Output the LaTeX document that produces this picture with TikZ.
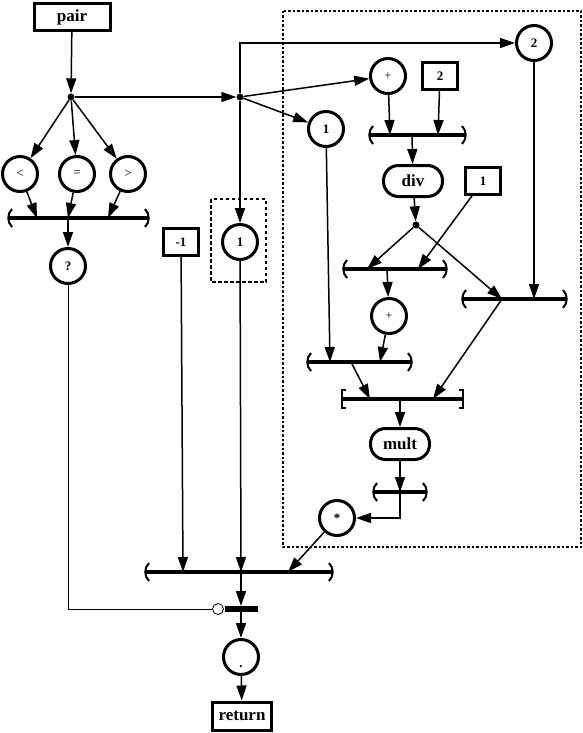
\documentclass[tikz,border=0pt]{standalone}
\usepackage{fontspec}
\setmainfont{Liberation Serif}
\usetikzlibrary{arrows.meta}

\newcommand{\grossfont}{\bfseries\fontsize{17}{18}\selectfont}
\newcommand{\kleinfont}{\bfseries\fontsize{13}{14}\selectfont}

% Balken mit runden bzw. eckigen Klammern: Name, x links, x rechts, y
\newcommand{\rundbalken}[4]{%
    \draw[balken] (#2,#4) -- (#3,#4);
    \draw[klammer] (#2+4,#4-9) .. controls (#2-1,#4-4) and (#2-1,#4+4) .. (#2+4,#4+9);
    \draw[klammer] (#3-4,#4-9) .. controls (#3+1,#4-4) and (#3+1,#4+4) .. (#3-4,#4+9);
    \coordinate (#1) at ({(#2+#3)/2},#4);
}
\newcommand{\eckbalken}[4]{%
    \draw[balken] (#2,#4) -- (#3,#4);
    \draw[klammer] (#2+4,#4-9) -- (#2,#4-9) -- (#2,#4+9) -- (#2+4,#4+9);
    \draw[klammer] (#3-4,#4-9) -- (#3,#4-9) -- (#3,#4+9) -- (#3-4,#4+9);
    \coordinate (#1) at ({(#2+#3)/2},#4);
}

\tikzset{
    knoten/.style={draw, line width=3pt, inner sep=0pt, font=\kleinfont},
    kreis/.style={knoten, circle, minimum size=35pt},
    kasten/.style={knoten, rectangle, minimum width=35pt, minimum height=27pt},
    funktion/.style={knoten, rectangle, rounded corners=15pt, minimum width=59pt, minimum height=31pt, font=\grossfont},
    punkt/.style={circle, fill, inner sep=0pt, minimum size=7pt},
    pfeil/.style={-{Triangle[length=15pt,width=10pt]}, line width=1.5pt},
    balken/.style={line width=3.5pt},
    klammer/.style={line width=2pt},
    rahmen/.style={line width=1.8pt, dash pattern=on 2.5pt off 2pt},
}

\begin{document}
\begin{tikzpicture}[x=1pt,y=-1pt]
    \useasboundingbox (0,0) rectangle (583,733);

    % Rahmen
    \draw[rahmen] (283,11) rectangle (581,547);
    \draw[rahmen, line width=1.4pt, dash pattern=on 3.5pt off 2.5pt] (211,199) rectangle (266,282);

    % Eingang
    \node[kasten, minimum width=76pt, font=\grossfont] (pair) at (72,17) {pair};
    \node[punkt] (d1) at (71,97) {};
    \node[punkt] (d2) at (240,97) {};
    \draw[pfeil] (pair) -- (d1);
    \draw[pfeil] (d1) -- (d2);

    % Vergleich
    \rundbalken{bA}{8}{149}{218}
    \foreach \n/\x/\s/\e in {lt/20/</37, eq/77/=/68, gt/128/>/108} {
        \node[kreis, font=\fontsize{13}{14}\selectfont] (\n) at (\x,174) {\s};
        \coordinate (\n-ein) at (\e,218);
        \draw[pfeil] (d1) -- (\n);
        \draw[pfeil] (\n) -- (\n-ein);
    }
    \coordinate (bA-aus) at (68,218);
    \node[kreis] (q) at (68,266) {?};
    \draw[pfeil] (bA-aus) -- (q);

    % Konstanten links
    \node[kasten] (m1) at (181,242) {-1};
    \node[kreis] (one) at (240,242) {1};

    % rechter Block
    \node[kreis] (two) at (534,43) {2};
    \node[kreis, font=\fontsize{12}{12}\selectfont] (plus1) at (388,76) {+};
    \node[kasten] (c2) at (440,76) {2};
    \node[kreis] (one2) at (326,129) {1};
    \draw[pfeil] (d2) |- (two);
    \draw[pfeil] (d2) -- (one);
    \draw[pfeil] (d2) -- (plus1);
    \draw[pfeil] (d2) -- (one2);

    \rundbalken{bB}{369}{466}{135}
    \coordinate (bB-1) at (390,135);
    \coordinate (bB-2) at (438,135);
    \coordinate (bB-aus) at (412,135);
    \draw[pfeil] (plus1) -- (bB-1);
    \draw[pfeil] (c2) -- (bB-2);

    \node[funktion] (div) at (413,181) {div};
    \node[kasten] (c1) at (483,181) {1};
    \node[punkt] (d3) at (416,225) {};
    \draw[pfeil] (bB-aus) -- (div);
    \draw[pfeil] (div) -- (d3);

    \rundbalken{bC}{343}{447}{269}
    \coordinate (bC-1) at (367,269);
    \coordinate (bC-2) at (418,269);
    \coordinate (bC-aus) at (387,269);
    \draw[pfeil] (d3) -- (bC-1);
    \draw[pfeil] (c1) -- (bC-2);

    \rundbalken{bD}{462}{567}{299}
    \coordinate (bD-1) at (502,299);
    \coordinate (bD-2) at (534,299);
    \draw[pfeil] (d3) -- (bD-1);
    \draw[pfeil] (two) -- (bD-2);

    \node[kreis, font=\fontsize{12}{12}\selectfont] (plus2) at (389,316) {+};
    \draw[pfeil] (bC-aus) -- (plus2);

    \rundbalken{bE}{307}{412}{362}
    \coordinate (bE-1) at (330,362);
    \coordinate (bE-2) at (380,362);
    \coordinate (bE-aus) at (351,362);
    \draw[pfeil] (one2) -- (bE-1);
    \draw[pfeil] (plus2) -- (bE-2);

    \eckbalken{bF}{342}{463}{399}
    \coordinate (bF-1) at (370,399);
    \coordinate (bF-2) at (433,399);
    \coordinate (bF-aus) at (400,399);
    \draw[pfeil] (bE-aus) -- (bF-1);
    \draw[pfeil] (bD-1) -- (bF-2);

    \node[funktion] (mult) at (400,444) {mult};
    \draw[pfeil] (bF-aus) -- (mult);

    \rundbalken{bG}{373}{427}{492}
    \node[kreis] (star) at (337,518) {*};
    \draw[pfeil] (mult) -- (bG);
    \draw[pfeil] (bG) |- (star);

    % Ausgang
    \rundbalken{bH}{145}{333}{572}
    \coordinate (bH-1) at (183,572);
    \coordinate (bH-2) at (241,572);
    \coordinate (bH-3) at (288,572);
    \draw[pfeil] (m1) -- (bH-1);
    \draw[pfeil] (one) -- (bH-2);
    \draw[pfeil] (star) -- (bH-3);

    \node[circle, draw, line width=0.8pt, minimum size=11pt, inner sep=0pt] (neg) at (218,609) {};
    \draw[line width=6pt] (225,609) -- (258,609);
    \coordinate (tor) at (241,606);
    \coordinate (tor-aus) at (241,609);
    \draw[line width=1pt] (q) |- (neg);
    \draw[pfeil] (bH-2) -- (tor);

    \node[kreis, text height=20pt, text depth=0pt] (dotc) at (241,657) {.};
    \node[kasten, minimum width=59pt, minimum height=28pt, font=\grossfont] (ret) at (242,716) {return};
    \draw[pfeil] (tor-aus) -- (dotc);
    \draw[pfeil] (dotc) -- (ret);
\end{tikzpicture}
\end{document}
